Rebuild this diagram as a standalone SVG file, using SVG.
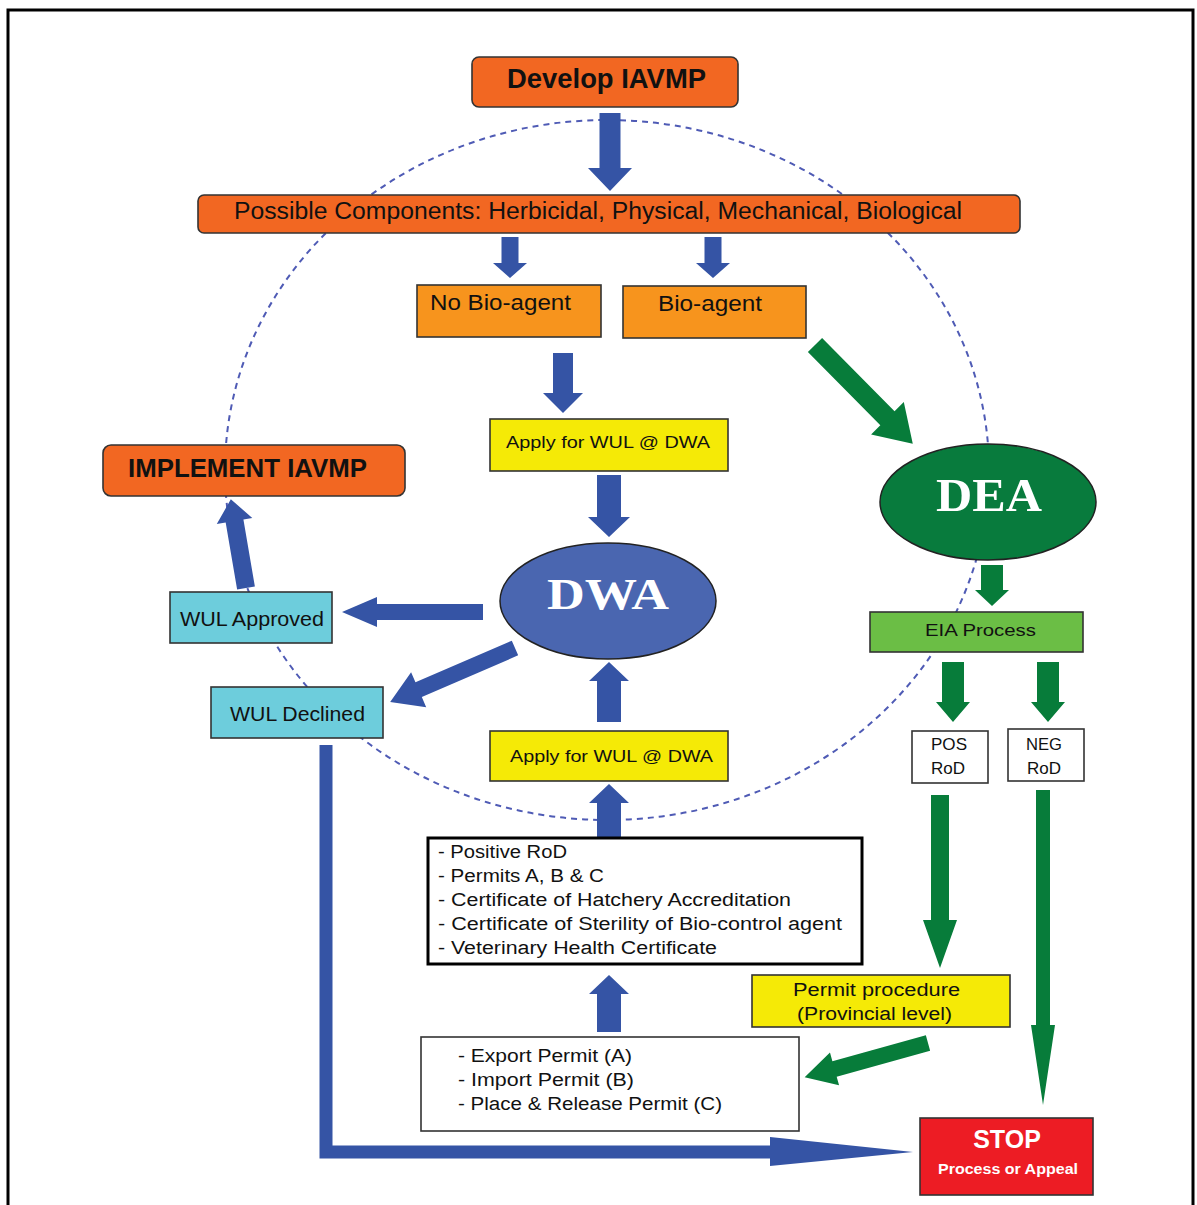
<svg xmlns="http://www.w3.org/2000/svg" width="1197" height="1205" viewBox="0 0 1197 1205">
<style>
text{font-family:"Liberation Sans",Arial,sans-serif;fill:#111}
.box{stroke:#333;stroke-width:1.6}
.or{fill:#F26722}
.lo{fill:#F7941D}
.ye{fill:#F5EA06}
.cy{fill:#6DCDDC}
.wh{fill:#fff}
.ba{fill:#3554A5}
.ga{fill:#077C3A}
.c{text-anchor:middle}
.ser{font-family:"Liberation Serif","Times New Roman",serif;font-weight:bold;fill:#fff}
</style>
<rect x="0" y="0" width="1197" height="1205" fill="#fff"/>
<rect x="8" y="10" width="1185" height="1210" fill="none" stroke="#000" stroke-width="3"/>
<ellipse cx="607" cy="470" rx="382" ry="350" fill="none" stroke="#4F5BB5" stroke-width="2" stroke-dasharray="6,5"/>

<g id="connectors">
  <polygon class="ba" transform="translate(610,113) rotate(90)" points="0,-10.5 55,-10.5 55,-22 78,0 55,22 55,10.5 0,10.5"/>
  <polygon class="ba" transform="translate(510,237) rotate(90)" points="0,-8.5 26,-8.5 26,-17 41,0 26,17 26,8.5 0,8.5"/>
  <polygon class="ba" transform="translate(713,237) rotate(90)" points="0,-8.5 26,-8.5 26,-17 41,0 26,17 26,8.5 0,8.5"/>
  <polygon class="ba" transform="translate(563,353) rotate(90)" points="0,-10 40,-10 40,-20 60,0 40,20 40,10 0,10"/>
  <polygon class="ba" transform="translate(609,475) rotate(90)" points="0,-12 42,-12 42,-21 62,0 42,21 42,12 0,12"/>
  <polygon class="ba" transform="translate(609,722) rotate(-90)" points="0,-12 41,-12 41,-20 60,0 41,20 41,12 0,12"/>
  <polygon class="ba" transform="translate(609,838) rotate(-90)" points="0,-12 35,-12 35,-20 54,0 35,20 35,12 0,12"/>
  <polygon class="ba" transform="translate(609,1032) rotate(-90)" points="0,-12 38,-12 38,-20 57,0 38,20 38,12 0,12"/>
  <polygon class="ba" transform="translate(483,612) rotate(180)" points="0,-8 106,-8 106,-15 141,0 106,15 106,8 0,8"/>
  <polygon class="ba" transform="translate(515,648) rotate(156.6)" points="0,-8 105,-8 105,-19 136,0 105,19 105,8 0,8"/>
  <polygon class="ba" transform="translate(246,588) rotate(-99.7)" points="0,-9 68,-9 68,-18 90,0 68,18 68,9 0,9"/>
  <path d="M326,745 V1152 H780" fill="none" stroke="#3554A5" stroke-width="13"/>
  <polygon class="ba" points="770,1137 913,1152 770,1166"/>
  <polygon class="ga" transform="translate(815,345) rotate(45.3)" points="0,-10 103,-10 103,-23 139,0 103,23 103,10 0,10"/>
  <polygon class="ga" transform="translate(992,565) rotate(90)" points="0,-11 25,-11 25,-17 41,0 25,17 25,11 0,11"/>
  <polygon class="ga" transform="translate(953,662) rotate(90)" points="0,-11 40,-11 40,-17 60,0 40,17 40,11 0,11"/>
  <polygon class="ga" transform="translate(1048,662) rotate(90)" points="0,-11 40,-11 40,-17 60,0 40,17 40,11 0,11"/>
  <polygon class="ga" transform="translate(940,795) rotate(90)" points="0,-9 125,-9 125,-17 173,0 125,17 125,9 0,9"/>
  <polygon class="ga" transform="translate(1043,790) rotate(90)" points="0,-7 235,-7 235,-12 315,0 235,12 235,7 0,7"/>
  <polygon class="ga" transform="translate(928,1043) rotate(164.5)" points="0,-8 97,-8 97,-17 128,0 97,17 97,8 0,8"/>
</g>

<g id="develop">
  <rect class="box or" x="472" y="57" width="266" height="50" rx="7"/>
  <text x="507" y="88" font-size="27" font-weight="bold" textLength="199" lengthAdjust="spacingAndGlyphs">Develop IAVMP</text>
</g>
<g id="components">
  <rect class="box or" x="198" y="195" width="822" height="38" rx="6"/>
  <text x="234" y="219" font-size="23" textLength="728" lengthAdjust="spacingAndGlyphs">Possible Components: Herbicidal, Physical, Mechanical, Biological</text>
</g>
<g id="nobio">
  <rect class="box lo" x="417" y="285" width="184" height="52"/>
  <text x="430" y="310" font-size="22" textLength="141" lengthAdjust="spacingAndGlyphs">No Bio-agent</text>
</g>
<g id="bio">
  <rect class="box lo" x="623" y="286" width="183" height="52"/>
  <text x="658" y="311" font-size="22" textLength="104" lengthAdjust="spacingAndGlyphs">Bio-agent</text>
</g>
<g id="apply1">
  <rect class="box ye" x="490" y="419" width="238" height="52"/>
  <text x="506" y="448" font-size="17" textLength="204" lengthAdjust="spacingAndGlyphs">Apply for WUL @ DWA</text>
</g>
<g id="dwa">
  <ellipse cx="608" cy="601" rx="108" ry="58" fill="#4A66B0" stroke="#222" stroke-width="1.5"/>
  <text class="ser c" x="608" y="609" font-size="44" textLength="122" lengthAdjust="spacingAndGlyphs">DWA</text>
</g>
<g id="dea">
  <ellipse cx="988" cy="502" rx="108" ry="58" fill="#087B3D" stroke="#222" stroke-width="1.5"/>
  <text class="ser c" x="989" y="511" font-size="46" textLength="106" lengthAdjust="spacingAndGlyphs">DEA</text>
</g>
<g id="implement">
  <rect class="box or" x="103" y="445" width="302" height="51" rx="8"/>
  <text x="128" y="477" font-size="25" font-weight="bold" textLength="239" lengthAdjust="spacingAndGlyphs">IMPLEMENT IAVMP</text>
</g>
<g id="wulapproved">
  <rect class="box cy" x="170" y="592" width="162" height="51"/>
  <text x="180" y="626" font-size="20" textLength="144" lengthAdjust="spacingAndGlyphs">WUL Approved</text>
</g>
<g id="wuldeclined">
  <rect class="box cy" x="211" y="687" width="172" height="51"/>
  <text x="230" y="721" font-size="20" textLength="135" lengthAdjust="spacingAndGlyphs">WUL Declined</text>
</g>
<g id="eia">
  <rect class="box" fill="#6BBE45" x="870" y="612" width="213" height="40"/>
  <text x="925" y="636" font-size="17" textLength="111" lengthAdjust="spacingAndGlyphs">EIA Process</text>
</g>
<g id="posrod">
  <rect class="box wh" x="912" y="731" width="76" height="52"/>
  <text x="931" y="750" font-size="17" textLength="36" lengthAdjust="spacingAndGlyphs">POS</text>
  <text x="931" y="774" font-size="17" textLength="34" lengthAdjust="spacingAndGlyphs">RoD</text>
</g>
<g id="negrod">
  <rect class="box wh" x="1008" y="729" width="76" height="52"/>
  <text x="1026" y="750" font-size="17" textLength="36" lengthAdjust="spacingAndGlyphs">NEG</text>
  <text x="1027" y="774" font-size="17" textLength="34" lengthAdjust="spacingAndGlyphs">RoD</text>
</g>
<g id="apply2">
  <rect class="box ye" x="490" y="731" width="238" height="50"/>
  <text x="510" y="762" font-size="17" textLength="203" lengthAdjust="spacingAndGlyphs">Apply for WUL @ DWA</text>
</g>
<g id="certificates">
  <rect x="428" y="838" width="434" height="126" fill="#fff" stroke="#000" stroke-width="3"/>
  <text x="438" y="858" font-size="18" textLength="129" lengthAdjust="spacingAndGlyphs">- Positive RoD</text>
  <text x="438" y="882" font-size="18" textLength="166" lengthAdjust="spacingAndGlyphs">- Permits A, B &amp; C</text>
  <text x="438" y="906" font-size="18" textLength="353" lengthAdjust="spacingAndGlyphs">- Certificate of Hatchery Accreditation</text>
  <text x="438" y="930" font-size="18" textLength="404" lengthAdjust="spacingAndGlyphs">- Certificate of Sterility of Bio-control agent</text>
  <text x="438" y="954" font-size="18" textLength="279" lengthAdjust="spacingAndGlyphs">- Veterinary Health Certificate</text>
</g>
<g id="permitproc">
  <rect class="box ye" x="752" y="975" width="258" height="52"/>
  <text x="793" y="996" font-size="18" textLength="167" lengthAdjust="spacingAndGlyphs">Permit procedure</text>
  <text x="797" y="1020" font-size="18" textLength="155" lengthAdjust="spacingAndGlyphs">(Provincial level)</text>
</g>
<g id="permits">
  <rect class="box wh" x="421" y="1037" width="378" height="94"/>
  <text x="458" y="1062" font-size="18" textLength="174" lengthAdjust="spacingAndGlyphs">- Export Permit (A)</text>
  <text x="458" y="1086" font-size="18" textLength="176" lengthAdjust="spacingAndGlyphs">- Import Permit (B)</text>
  <text x="458" y="1110" font-size="18" textLength="264" lengthAdjust="spacingAndGlyphs">- Place &amp; Release Permit (C)</text>
</g>
<g id="stop">
  <rect class="box" fill="#ED1C24" x="920" y="1118" width="173" height="77"/>
  <text class="c" x="1007" y="1148" font-size="25" font-weight="bold" style="fill:#fff">STOP</text>
  <text class="c" x="1008" y="1174" font-size="14" font-weight="bold" style="fill:#fff" textLength="140" lengthAdjust="spacingAndGlyphs">Process or Appeal</text>
</g>
</svg>
